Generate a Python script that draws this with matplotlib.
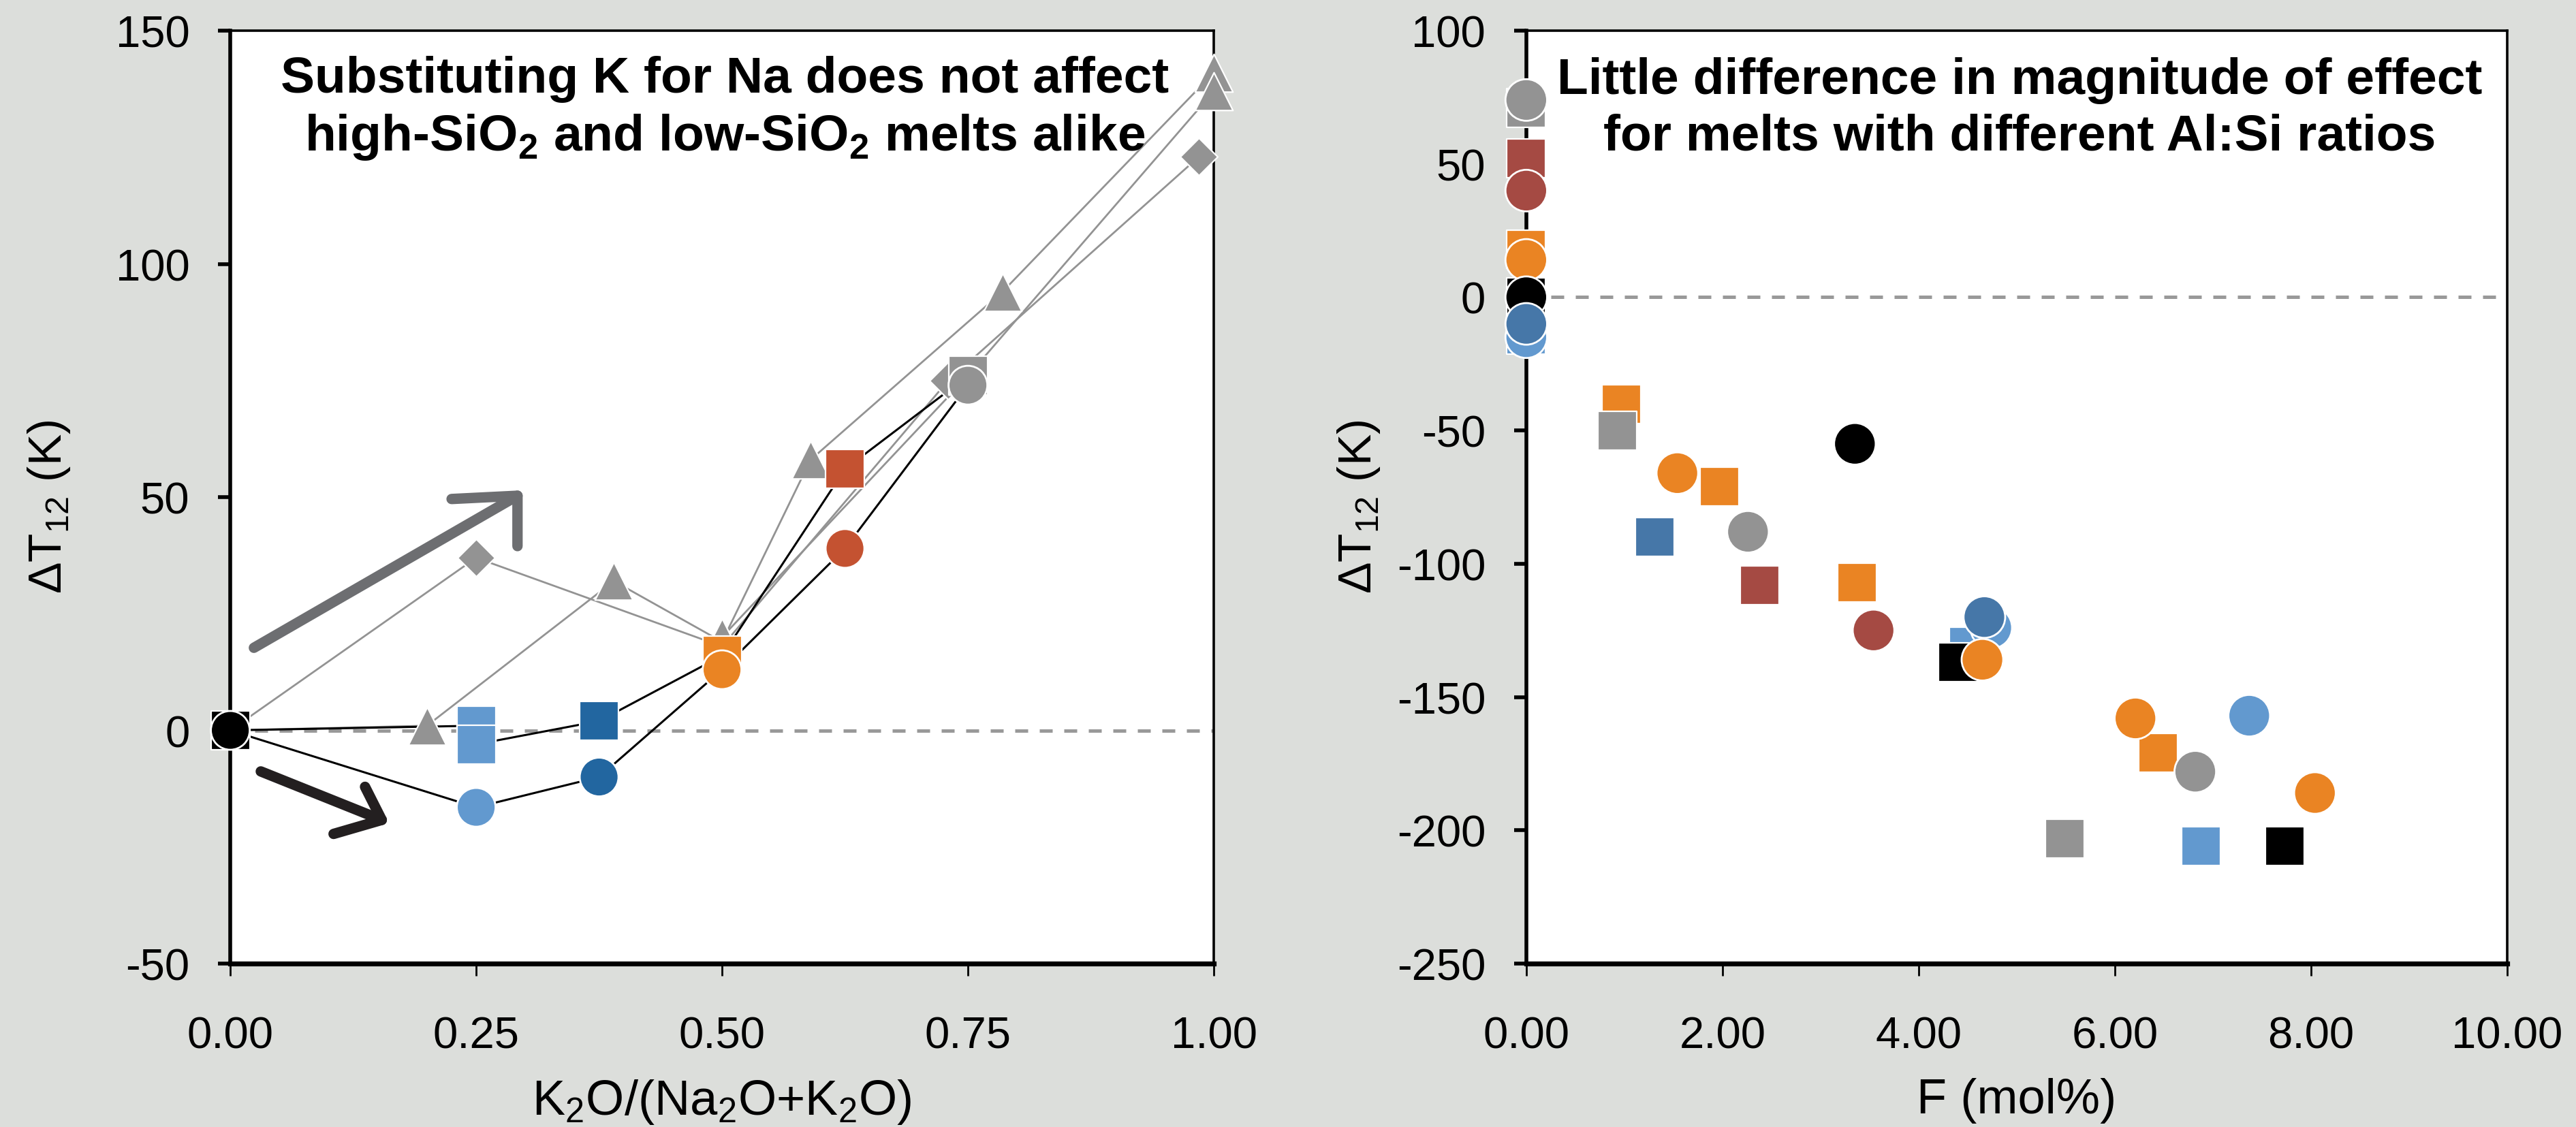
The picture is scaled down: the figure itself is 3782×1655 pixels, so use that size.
import matplotlib
matplotlib.use('Agg')
import matplotlib.pyplot as plt

plt.rcParams['font.family'] = ['Liberation Sans', 'DejaVu Sans']
plt.rcParams['mathtext.fontset'] = 'custom'
plt.rcParams['mathtext.rm'] = 'Liberation Sans'
plt.rcParams['mathtext.bf'] = 'Liberation Sans:bold'
plt.rcParams['axes.unicode_minus'] = False

BG = '#dcdedb'
GRAY = '#939393'
BLACK = '#000000'
LBLUE = '#6299cf'
DBLUE_L = '#2266a0'
DBLUE_R = '#4677a8'
ORANGE = '#ea8423'
RED_L = '#c45231'
RED_R = '#a54a43'

# left panel: dT12 vs K2O/(Na2O+K2O)
circ_x = [0, 0.25, 0.375, 0.5, 0.625, 0.75]
circ_y = [0, -16.5, -10, 13, 39, 74]
circ_c = [BLACK, LBLUE, DBLUE_L, ORANGE, RED_L, GRAY]

sq_x = [0, 0.25, 0.25, 0.375, 0.5, 0.625, 0.75]
sq_y = [0, 1, -3, 2, 16, 56, 76]
sq_c = [BLACK, LBLUE, LBLUE, DBLUE_L, ORANGE, RED_L, GRAY]

dia_x = [0, 0.25, 0.5, 0.73, 0.985]
dia_y = [0, 37, 18, 75, 123]

tri1_x = [0, 0.2, 0.39, 0.5, 0.59, 0.785, 1.0]
tri1_y = [0, 1, 32, 19, 58, 94, 141]
tri2_x = [0.5, 0.75, 1.0]
tri2_y = [20, 76, 137]

left_xticks = [0, 0.25, 0.5, 0.75, 1.0]
left_yticks = [-50, 0, 50, 100, 150]

# right panel: dT12 vs F (mol%)
f_circ_x = [0, 0, 0, 0, 0, 0, 3.35, 1.54, 2.26, 3.54, 4.74, 4.67, 4.65, 6.21, 7.37, 6.82, 8.04]
f_circ_y = [74, 40, 14, 0, -15, -10, -55, -66, -88, -125, -124, -120, -136, -158, -157, -178, -186]
f_circ_c = [GRAY, RED_R, ORANGE, BLACK, LBLUE, DBLUE_R, BLACK, ORANGE, GRAY, RED_R, LBLUE,
            DBLUE_R, ORANGE, ORANGE, LBLUE, GRAY, ORANGE]

f_sq_x = [0, 0, 0, 0, 0, 0.97, 0.93, 1.97, 1.31, 2.38, 3.37, 4.51, 4.40, 6.44, 5.49, 6.88, 7.73]
f_sq_y = [71, 52, 18, 0, -14, -40, -50, -71, -90, -108, -107, -131, -137, -171, -203, -206, -206]
f_sq_c = [GRAY, RED_R, ORANGE, BLACK, LBLUE, ORANGE, GRAY, ORANGE, DBLUE_R, RED_R, ORANGE,
          LBLUE, BLACK, ORANGE, GRAY, LBLUE, BLACK]

right_xticks = [0, 2, 4, 6, 8, 10]
right_yticks = [-250, -200, -150, -100, -50, 0, 50, 100]


def style_axes(ax):
  ax.set_facecolor('white')
  ax.spines['left'].set_linewidth(2.0)
  ax.spines['bottom'].set_linewidth(2.6)
  ax.spines['top'].set_linewidth(1.3)
  ax.spines['right'].set_linewidth(1.3)
  ax.tick_params(axis='x', direction='out', length=6.5, width=1.0, pad=21, labelsize=23.5)
  ax.tick_params(axis='y', direction='out', length=6.5, width=2.0, pad=15, labelsize=23.5)
  ax.axhline(0, color='#999999', lw=1.8, dashes=(3.8, 3.4), zorder=1)


fig = plt.figure(figsize=(18.91, 8.28), dpi=200, facecolor=BG)

# left
ax = fig.add_axes([0.0894, 0.1449, 0.3818, 0.8273])
style_axes(ax)
ax.plot(dia_x, dia_y, color=GRAY, lw=1.0, zorder=2)
ax.plot(tri1_x, tri1_y, color=GRAY, lw=1.0, zorder=2)
ax.plot(tri2_x, tri2_y, color=GRAY, lw=1.0, zorder=2)
ax.plot(sq_x, sq_y, color='black', lw=1.1, zorder=3)
ax.plot(circ_x, circ_y, color='black', lw=1.1, zorder=3)
ax.scatter(dia_x[1:], dia_y[1:], s=14**2, marker='D', c=GRAY, edgecolors='white',
           linewidths=0.8, zorder=4, clip_on=False)
ax.scatter(tri1_x[1:], tri1_y[1:], s=20**2, marker='^', c=GRAY, edgecolors='white',
           linewidths=0.8, zorder=4, clip_on=False)
ax.scatter(tri2_x, tri2_y, s=20**2, marker='^', c=GRAY, edgecolors='white',
           linewidths=0.8, zorder=4, clip_on=False)
ax.scatter(sq_x, sq_y, s=20.5**2, marker='s', c=sq_c, edgecolors='white',
           linewidths=0.8, zorder=5, clip_on=False)
ax.scatter(circ_x, circ_y, s=20.5**2, marker='o', c=circ_c, edgecolors='white',
           linewidths=1.0, zorder=6, clip_on=False)

# hand drawn arrows
ax.plot([0.024, 0.292], [17.7, 50.3], color='#6d6e71', lw=5.5, solid_capstyle='round', zorder=3)
ax.plot([0.225, 0.292, 0.292], [49.6, 50.3, 39.5], color='#6d6e71', lw=5.5,
        solid_capstyle='round', solid_joinstyle='round', zorder=3)
ax.plot([0.031, 0.154], [-8.8, -19.2], color='#231f20', lw=5.5, solid_capstyle='round', zorder=3)
ax.plot([0.137, 0.154, 0.105], [-12.1, -19.2, -22.2], color='#231f20', lw=5.5,
        solid_capstyle='round', solid_joinstyle='round', zorder=3)

ax.set_xlim(0, 1)
ax.set_ylim(-50, 150)
ax.set_xticks(left_xticks)
ax.set_xticklabels([f'{v:.2f}' for v in left_xticks])
ax.set_yticks(left_yticks)
ax.set_xlabel('K$_2$O/(Na$_2$O+K$_2$O)', fontsize=26)
ax.set_ylabel('ΔT$_{12}$ (K)', fontsize=25)
ax.xaxis.set_label_coords(0.5, -0.122)
ax.yaxis.set_label_coords(-0.161, 0.49)
ax.text(0.503, 0.917, 'Substituting K for Na does not affect\nhigh-SiO$_\\mathbf{2}$ and low-SiO$_\\mathbf{2}$ melts alike',
        transform=ax.transAxes, ha='center', va='center', fontsize=27, fontweight='bold',
        linespacing=1.25)

# right
ax2 = fig.add_axes([0.5925, 0.1449, 0.3808, 0.8273])
style_axes(ax2)
ax2.scatter(f_sq_x, f_sq_y, s=20.5**2, marker='s', c=f_sq_c, edgecolors='white',
            linewidths=0.8, zorder=5, clip_on=False)
ax2.scatter(f_circ_x, f_circ_y, s=22**2, marker='o', c=f_circ_c, edgecolors='white',
            linewidths=1.0, zorder=6, clip_on=False)
ax2.set_xlim(0, 10)
ax2.set_ylim(-250, 100)
ax2.set_xticks(right_xticks)
ax2.set_xticklabels([f'{v:.2f}' for v in right_xticks])
ax2.set_yticks(right_yticks)
ax2.set_xlabel('F (mol%)', fontsize=26)
ax2.set_ylabel('ΔT$_{12}$ (K)', fontsize=25)
ax2.xaxis.set_label_coords(0.5, -0.122)
ax2.yaxis.set_label_coords(-0.147, 0.49)
ax2.text(0.503, 0.917, 'Little difference in magnitude of effect\nfor melts with different Al:Si ratios',
         transform=ax2.transAxes, ha='center', va='center', fontsize=27, fontweight='bold',
         linespacing=1.25)

plt.savefig('out.png', dpi=200, facecolor=BG)
plt.close()
